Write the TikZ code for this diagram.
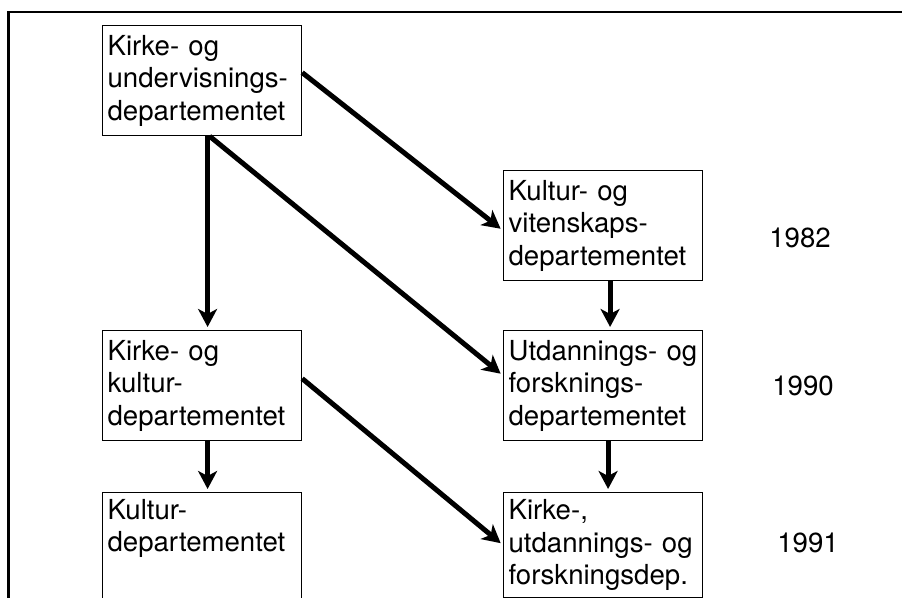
\documentclass[tikz,border=0pt]{standalone}
\usepackage{fontspec}
\setmainfont{TeX Gyre Heros}
\usepackage{tikz}
\usetikzlibrary{arrows.meta}
\tikzset{
  dep/.style = {draw, line width=0.6pt, anchor=north west,
    minimum width=99.5pt, minimum height=55pt,
    text width=94.5pt, inner xsep=2.5pt, align=left}
}
\tikzset{
  dep low/.style = {dep, minimum height=52.5pt}
}
\tikzset{
  every node/.style = {font = \fontsize{13.8}{16.2}\selectfont}
}
\tikzset{
    >={Stealth[length=9pt, width=9.5pt, inset=2.5pt]}
}

\begin{document}
\begin{tikzpicture}[x=0.5pt, y=-0.5pt]
  \useasboundingbox (0,0) rectangle (902,598);

  \draw[line width=1.4pt] (902,12) -- (8.5,12) -- (8.5,598);

  \node[dep] (KUD) at (102,25) {Kirke- og\\undervisnings-\\departementet};
  \node[dep] (KVD) at (503,170) {Kultur- og\\vitenskaps-\\departementet};
  \node[dep] (KKD) at (102,330) {Kirke- og\\kultur-\\departementet};
  \node[dep] (UFD) at (503,330) {Utdannings- og\\forsknings-\\departementet};
  \node[dep low] (KD) at (102,492) {Kultur-\\departementet\\ \strut};
  \node[dep low] (KUFD) at (503,492) {Kirke-,\\utdannings- og\\forskningsdep.};

  \node (y82) at (800,238) {1982};
  \node (y90) at (803,386) {1990};
  \node (y91) at (808,543) {1991};

  \begin{scope}[->, line width=2.5pt, shorten >=1.5pt]
    \draw ([yshift=4pt]KUD.east) -- ([yshift=-2.5pt]KVD.west);
    \draw ([xshift=2.75pt]KUD.south) -- ([xshift=2.75pt]KKD.north);
    \draw ([xshift=3.75pt]KUD.south) -- ([yshift=5pt]UFD.west);
    \draw ([xshift=3.5pt]KVD.south) -- ([xshift=3.5pt]UFD.north);
    \draw ([yshift=3.5pt]KKD.east) -- (KUFD.west);
    \draw ([xshift=2.75pt]KKD.south) -- ([xshift=2.75pt]KD.north);
    \draw ([xshift=2.5pt]UFD.south) -- ([xshift=2.5pt]KUFD.north);
  \end{scope}
\end{tikzpicture}
\end{document}
